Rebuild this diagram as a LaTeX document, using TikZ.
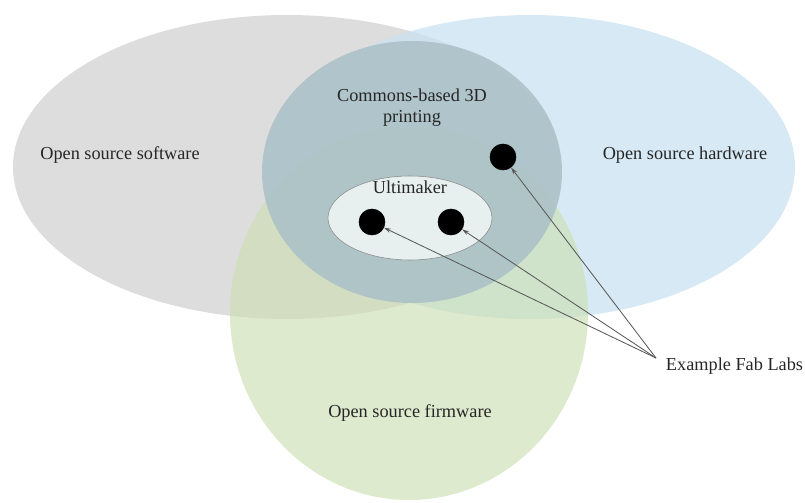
\documentclass[tikz,border=0pt]{standalone}
\usepackage{fontspec}
\setmainfont{Liberation Serif}
\usetikzlibrary{arrows.meta}
\definecolor{swgray}{RGB}{221,221,221}
\definecolor{hwblue}{RGB}{200,226,240}
\definecolor{fwgreen}{RGB}{205,222,180}
\definecolor{commons}{RGB}{172,194,200}
\definecolor{umfill}{RGB}{232,239,239}
\tikzset{
  lbl/.style={font=\fontsize{13}{15}\selectfont, align=center, text=black!85},
  fablab/.style={draw, circle, fill=black, minimum size=0.65cm, inner sep=0pt},
  pointer/.style={draw, black!65, line width=0.6pt, -{Stealth[length=5pt,width=3pt]}}
}
\begin{document}
\begin{tikzpicture}[x=0.025cm, y=0.025cm]
\useasboundingbox (0,0) rectangle (805,502);
\fill[swgray] (287,335) ellipse [x radius=274, y radius=152];
\fill[hwblue, fill opacity=0.75] (530,335) ellipse [x radius=265, y radius=152];
\fill[fwgreen, fill opacity=0.65] (409,189) ellipse [x radius=179, y radius=187];
\fill[commons, fill opacity=0.9] (412,330) ellipse [x radius=150, y radius=131];
\path[draw, black!45, fill=umfill] (410,284) ellipse [x radius=82, y radius=42];
\node[lbl] (sw) at (120,347) {Open source software};
\node[lbl] (hw) at (685,347) {Open source hardware};
\node[lbl] (fw) at (410,89) {Open source firmware};
\node[lbl] (cb) at (412,394) {Commons-based 3D\\printing};
\node[lbl] (um) at (410,315) {Ultimaker};
\node[fablab] (1) at (372,280) {};
\node[fablab] (2) at (451,280) {};
\node[fablab] (3) at (503,345) {};
\node[lbl, anchor=west] (ex) at (661,136) {Example Fab Labs};
\coordinate (src) at (656,144);
\path[pointer] (src) -- (1);
\path[pointer] (src) -- (2);
\path[pointer] (src) -- (3);
\end{tikzpicture}
\end{document}
